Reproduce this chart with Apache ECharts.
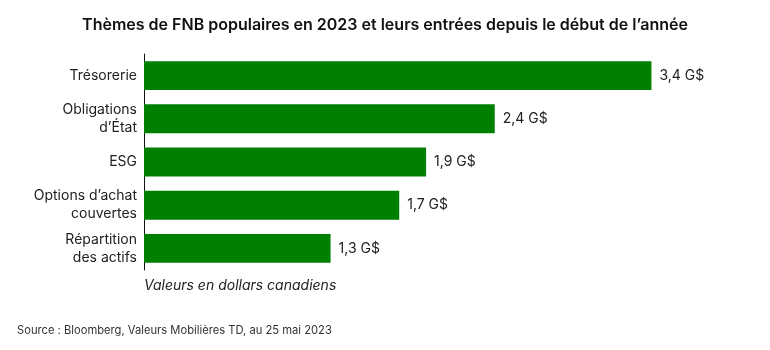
<!DOCTYPE html>
<html>
<head>
<meta charset="utf-8">
<script src="https://cdn.jsdelivr.net/npm/echarts@6/dist/echarts.min.js"></script>
<style>
  html, body { margin: 0; padding: 0; background: #fff; }
  #chart { width: 770px; height: 350px; }
</style>
</head>
<body>
<div id="chart"></div>
<script>
// thèmes FNB, entrées depuis le début de l'année (G$ CA)
const categories = [
  "Trésorerie",
  "Obligations\nd’État",
  "ESG",
  "Options d’achat\ncouvertes",
  "Répartition\ndes actifs"
];
const values = [3.4, 2.35, 1.89, 1.71, 1.25];
const valueLabels = ["3,4 G$", "2,4 G$", "1,9 G$", "1,7 G$", "1,3 G$"];

const font = "Inter, 'Open Sans', sans-serif";

const chart = echarts.init(document.getElementById("chart"));
const option = {
  animation: false,
  title: [
    {
      text: "Thèmes de FNB populaires en 2023 et leurs entrées depuis le début de l’année",
      left: "center",
      top: 12,
      textStyle: { fontFamily: font, fontSize: 16, fontWeight: 600, color: "#111" }
    },
    {
      text: "Valeurs en dollars canadiens",
      left: 139,
      top: 274,
      textStyle: { fontFamily: font, fontSize: 14, fontStyle: "italic", fontWeight: "normal", color: "#222" }
    },
    {
      text: "Source : Bloomberg, Valeurs Mobilières TD, au 25 mai 2023",
      left: 12,
      top: 320,
      textStyle: { fontFamily: font, fontSize: 11.2, fontWeight: "normal", color: "#333" }
    }
  ],
  grid: { left: 144, right: 29, top: 54, height: 216 },
  xAxis: {
    type: "value",
    min: 0,
    max: 4,
    show: false
  },
  yAxis: {
    type: "category",
    inverse: true,
    data: categories,
    axisLine: { show: true, lineStyle: { color: "#111", width: 1 } },
    axisTick: { show: false },
    axisLabel: {
      margin: 7,
      fontFamily: font,
      fontSize: 14,
      color: "#222",
      lineHeight: 18,
      align: "right"
    }
  },
  series: [
    {
      type: "bar",
      data: values,
      barCategoryGap: "33%",
      itemStyle: { color: "#008000" },
      label: {
        show: true,
        position: "right",
        distance: 8,
        fontFamily: font,
        fontSize: 14,
        color: "#222",
        formatter: (p) => valueLabels[p.dataIndex]
      }
    }
  ]
};
chart.setOption(option);
</script>
</body>
</html>
